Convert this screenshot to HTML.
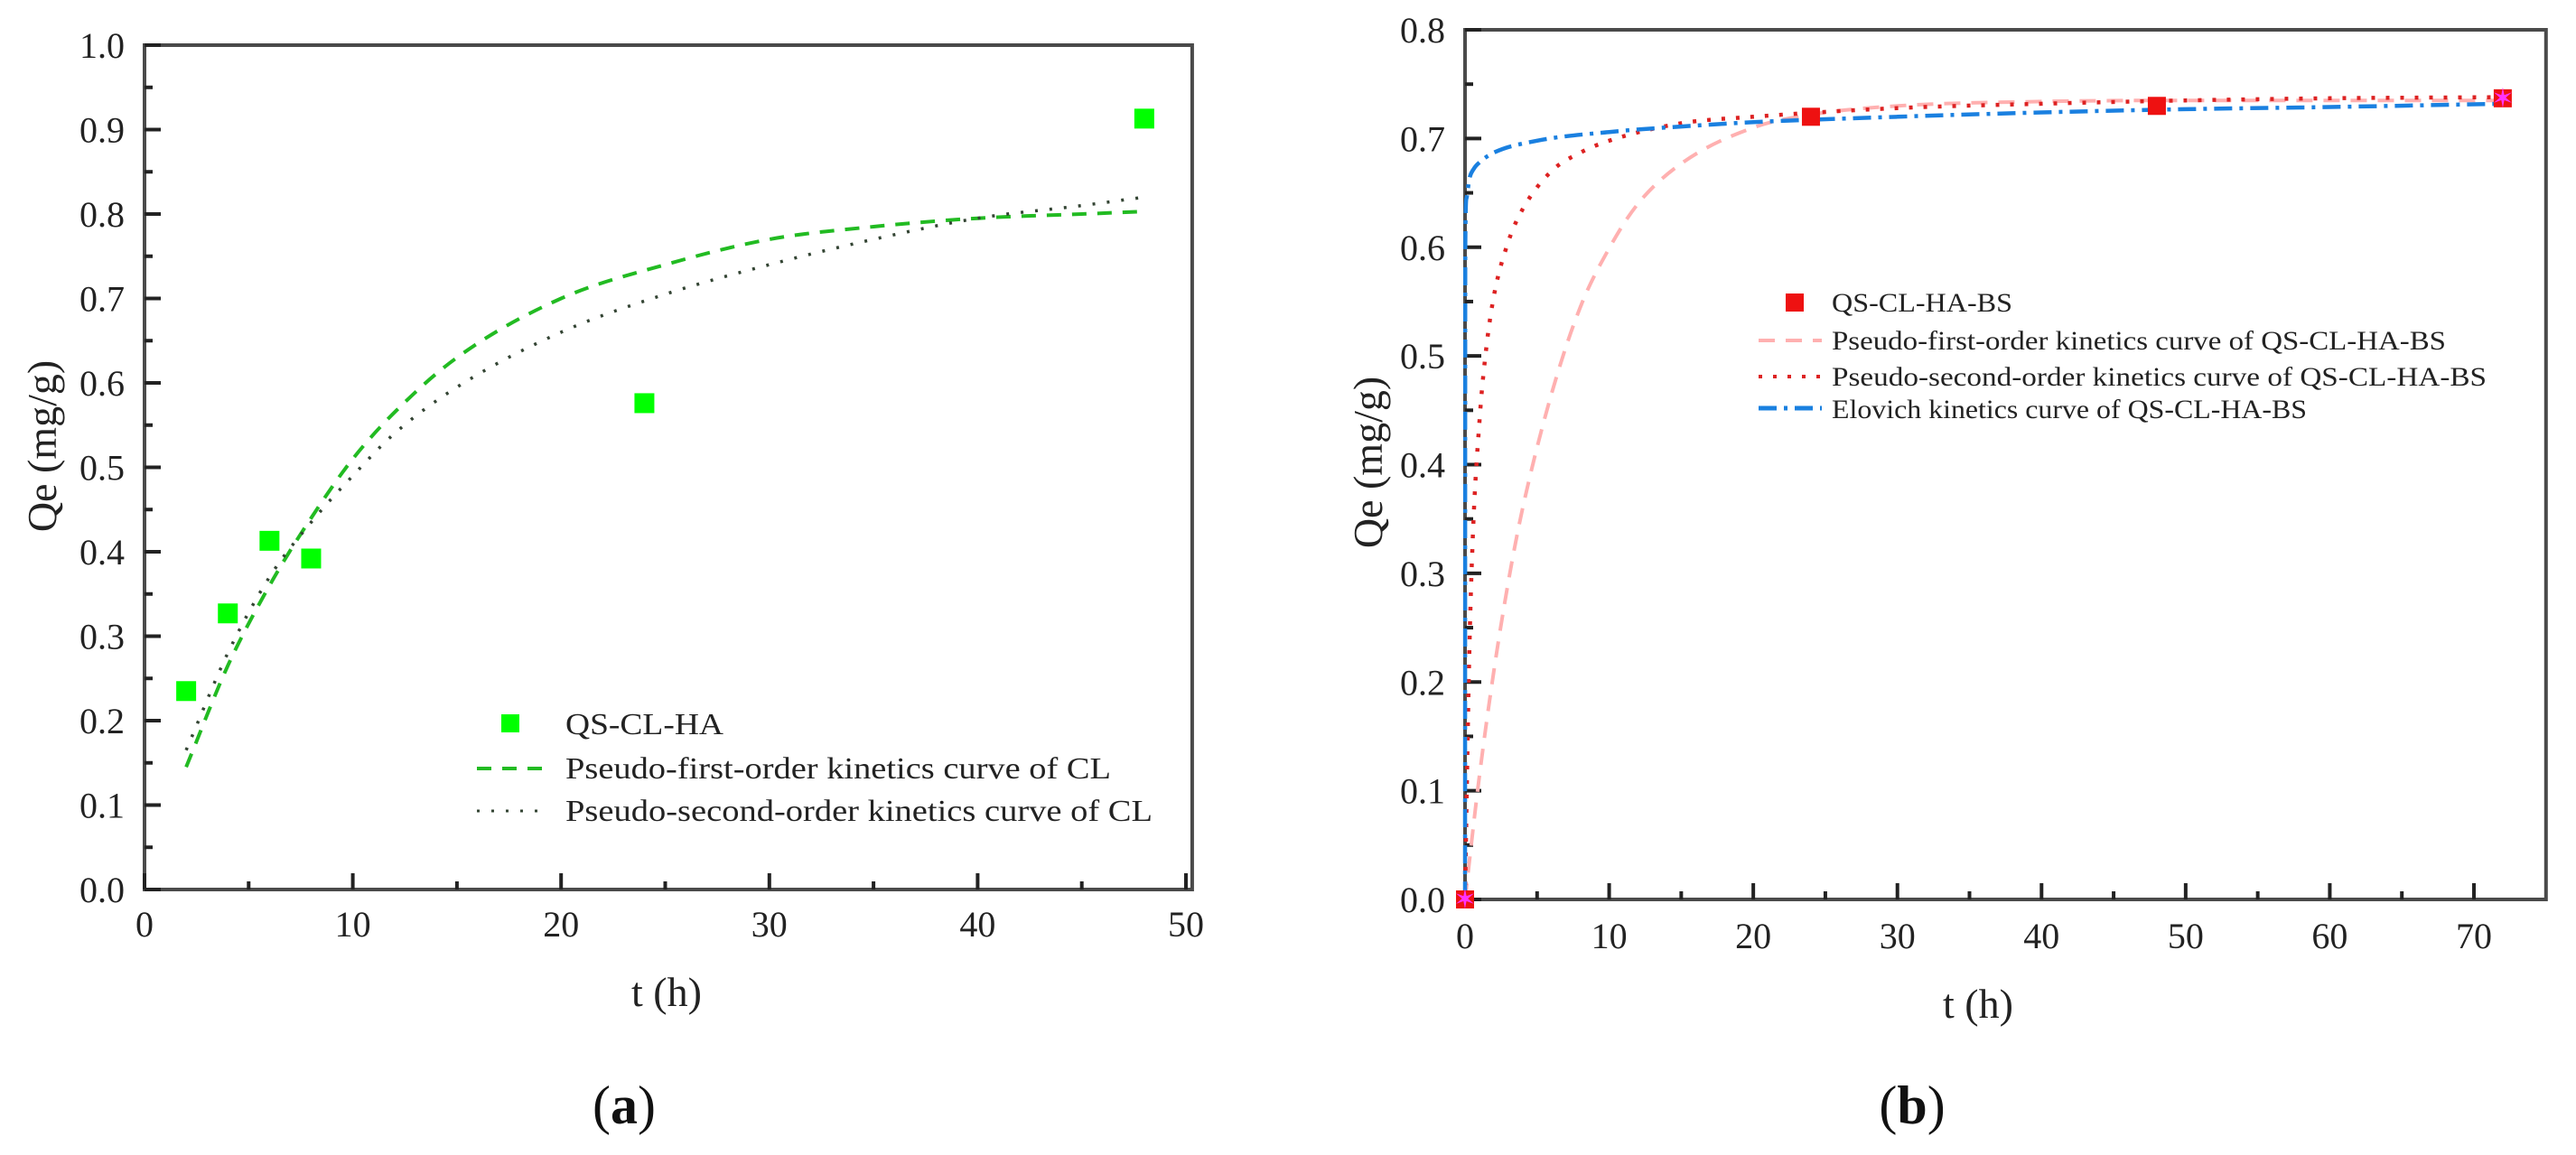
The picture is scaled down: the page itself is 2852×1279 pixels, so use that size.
<!DOCTYPE html>
<html><head><meta charset="utf-8"><style>
html,body{margin:0;padding:0;background:#fff;}
svg{display:block;font-family:"Liberation Serif","DejaVu Serif",serif;}
</style></head><body>
<svg id="fig" width="2852" height="1279" viewBox="0 0 2852 1279" xmlns="http://www.w3.org/2000/svg">
<rect width="2852" height="1279" fill="#fff"/>
<g id="pa"></g>
<g id="pb"></g>
</svg>
<script>
// ---- Panel (a) data ----
const aPtsT = [2, 4, 6, 8, 24, 48];
const aPtsQ = [0.235, 0.327, 0.413, 0.392, 0.576, 0.913];
const aCurveT = [2, 4, 6, 8, 10, 12, 15, 20, 25, 30, 35, 40, 45, 48];
const aPfo = [0.145, 0.265, 0.36, 0.44, 0.51, 0.565, 0.63, 0.70, 0.74, 0.77, 0.785, 0.795, 0.80, 0.803];
const aPso = [0.165, 0.28, 0.37, 0.435, 0.49, 0.54, 0.595, 0.66, 0.705, 0.74, 0.77, 0.795, 0.81, 0.82];
const aXTicks = [0, 10, 20, 30, 40, 50];
const aYTicks = [0.0, 0.1, 0.2, 0.3, 0.4, 0.5, 0.6, 0.7, 0.8, 0.9, 1.0];
// ---- Panel (b) data ----
const bPtsT = [0, 24, 48, 72];
const bPtsQ = [0, 0.72, 0.73, 0.737];
const bPfoT = [0, 1, 2, 3, 4, 6, 8, 10, 12, 15, 20, 24, 30, 40, 50, 60, 72];
const bPfo = [0, 0.114, 0.21, 0.292, 0.36, 0.465, 0.545, 0.599, 0.64, 0.677, 0.71, 0.722, 0.73, 0.734, 0.735, 0.735, 0.735];
const bPsoT = [0, 0.25, 0.5, 1, 1.5, 2, 3, 4, 6, 8, 10, 15, 20, 30, 40, 50, 60, 72];
const bPso = [0, 0.198, 0.32, 0.44, 0.51, 0.555, 0.605, 0.635, 0.67, 0.687, 0.698, 0.714, 0.72, 0.728, 0.732, 0.735, 0.737, 0.738];
const bEloT = [0, 0.02, 0.1, 0.3, 0.6, 1, 2, 5, 10, 15, 20, 30, 40, 50, 60, 72];
const bElo = [0, 0.6, 0.645, 0.663, 0.672, 0.678, 0.687, 0.698, 0.706, 0.711, 0.715, 0.72, 0.724, 0.727, 0.729, 0.732];
const bXTicks = [0, 10, 20, 30, 40, 50, 60, 70];
const bYTicks = [0.0, 0.1, 0.2, 0.3, 0.4, 0.5, 0.6, 0.7, 0.8];

const NS = 'http://www.w3.org/2000/svg';
function mk(parent, tag, attrs, text){
  const e = document.createElementNS(NS, tag);
  for (const k in attrs) e.setAttribute(k, attrs[k]);
  if (text !== undefined) e.textContent = text;
  parent.appendChild(e);
  return e;
}
function scale(d0, d1, r0, r1){ return v => r0 + (v - d0) * (r1 - r0) / (d1 - d0); }

function axes(g, X, Y, xr, yr, xTicks, yTicks, xMinor, yMinor, xLabY){
  const L = X(xr[0]), R = X(xr[1]), T = Y(yr[1]), B = Y(yr[0]);
  const fr = mk(g, 'rect', {x:L, y:T, width:R-L, height:B-T, fill:'none', stroke:'#4a4a4a', 'stroke-width':4});
  
  
  for (let v = xr[0]; v <= xTicks[xTicks.length-1] + 1e-9; v += xMinor){
    const major = xTicks.some(t => Math.abs(t - v) < 1e-9);
    const t = mk(g, 'line', {x1:X(v), x2:X(v), y1:B, y2:B-(major?18:9), stroke:'#222', 'stroke-width':4});
    
    
  }
  xTicks.forEach(v => {
    const t = mk(g, 'text', {x:X(v), y:xLabY, 'font-size':40, 'text-anchor':'middle', fill:'#222'}, String(v));
    
    
  });
  const n = Math.round((yr[1]-yr[0])/yMinor);
  for (let i = 0; i <= n; i++){
    const v = yr[0] + i*yMinor;
    const major = i % 2 === 0;
    const t = mk(g, 'line', {x1:L, x2:L+(major?18:9), y1:Y(v), y2:Y(v), stroke:'#222', 'stroke-width':4});
    
    
  }
  yTicks.forEach(v => {
    const t = mk(g, 'text', {x:L-22, y:Y(v)+14, 'font-size':40, 'text-anchor':'end', fill:'#222'}, v.toFixed(1));
    
    
  });
}
// monotone cubic (Fritsch-Carlson) smooth path
function pathD(ts, qs, X, Y){
  const xs = ts.map(X), ys = qs.map(Y), n = xs.length;
  const d = [], m = new Array(n);
  for (let i = 0; i < n-1; i++) d.push((ys[i+1]-ys[i])/(xs[i+1]-xs[i]));
  m[0] = d[0]; m[n-1] = d[n-2];
  for (let i = 1; i < n-1; i++) m[i] = (d[i-1]*d[i] <= 0) ? 0 : (d[i-1]+d[i])/2;
  for (let i = 0; i < n-1; i++){
    if (d[i] === 0){ m[i] = 0; m[i+1] = 0; continue; }
    const a = m[i]/d[i], b = m[i+1]/d[i], s = a*a + b*b;
    if (s > 9){ const tau = 3/Math.sqrt(s); m[i] = tau*a*d[i]; m[i+1] = tau*b*d[i]; }
  }
  let p = 'M' + xs[0].toFixed(1) + ',' + ys[0].toFixed(1);
  for (let i = 0; i < n-1; i++){
    const h = (xs[i+1]-xs[i])/3;
    p += ' C' + (xs[i]+h).toFixed(1) + ',' + (ys[i]+m[i]*h).toFixed(1) + ' ' +
         (xs[i+1]-h).toFixed(1) + ',' + (ys[i+1]-m[i+1]*h).toFixed(1) + ' ' +
         xs[i+1].toFixed(1) + ',' + ys[i+1].toFixed(1);
  }
  return p;
}

// ---------- Panel A ----------
(function(){
  const g = document.getElementById('pa');
  const X = scale(0, 50, 160, 1313), Y = scale(0, 1, 985, 50);
  axes(g, X, Y, [0, 50.3], [0, 1], aXTicks, aYTicks, 5, 0.05, 1037);
  const p1 = mk(g, 'path', {d:pathD(aCurveT, aPfo, X, Y), fill:'none', stroke:'#22bb22', 'stroke-width':4, 'stroke-dasharray':'16 12'});
  
  
  const p2 = mk(g, 'path', {d:pathD(aCurveT, aPso, X, Y), fill:'none', stroke:'#334433', 'stroke-width':3.5, 'stroke-dasharray':'3 13'});
  
  
  aPtsT.forEach((t,i) => {
    const r = mk(g, 'rect', {x:X(t)-11, y:Y(aPtsQ[i])-11, width:22, height:22, fill:'#00ff00'});
    
    
  });
  const lg = mk(g, 'g', {});
  
  
  mk(lg, 'rect', {x:555, y:791, width:20, height:20, fill:'#00ff00'});
  mk(lg, 'line', {x1:528, x2:606, y1:851, y2:851, stroke:'#22bb22', 'stroke-width':4, 'stroke-dasharray':'16 12'});
  mk(lg, 'line', {x1:528, x2:600, y1:898, y2:898, stroke:'#334433', 'stroke-width':3, 'stroke-dasharray':'3 13'});
  mk(lg, 'text', {x:626, y:813, 'font-size':34, fill:'#222', textLength:175, lengthAdjust:'spacingAndGlyphs'}, 'QS-CL-HA');
  mk(lg, 'text', {x:626, y:862, 'font-size':34, fill:'#222', textLength:604, lengthAdjust:'spacingAndGlyphs'}, 'Pseudo-first-order kinetics curve of CL');
  mk(lg, 'text', {x:626, y:909, 'font-size':34, fill:'#222', textLength:650, lengthAdjust:'spacingAndGlyphs'}, 'Pseudo-second-order kinetics curve of CL');
  const yt = mk(g, 'text', {x:0, y:0, 'font-size':46, 'text-anchor':'middle', fill:'#222', transform:'translate(62,494) rotate(-90)'}, 'Qe (mg/g)');
  
  
  const xt = mk(g, 'text', {x:738, y:1114, 'font-size':46, 'text-anchor':'middle', fill:'#222'}, 't (h)');
  
  
  const cap = mk(g, 'text', {x:691, y:1244, 'font-size':60, 'text-anchor':'middle', fill:'#111'});
  
  
  cap.innerHTML = '(<tspan font-weight="bold">a</tspan>)';
})();

// ---------- Panel B ----------
(function(){
  const g = document.getElementById('pb');
  const X = scale(0, 70, 1622, 2739), Y = scale(0, 0.8, 996, 33);
  axes(g, X, Y, [0, 75], [0, 0.8], bXTicks, bYTicks, 5, 0.05, 1050);
  const p1 = mk(g, 'path', {d:pathD(bPfoT, bPfo, X, Y), fill:'none', stroke:'#ffb0b0', 'stroke-width':4, 'stroke-dasharray':'18 12'});
  
  
  const p2 = mk(g, 'path', {d:pathD(bPsoT, bPso, X, Y), fill:'none', stroke:'#dd2222', 'stroke-width':4.5, 'stroke-dasharray':'4 12'});
  
  
  const p3 = mk(g, 'path', {d:pathD(bEloT, bElo, X, Y), fill:'none', stroke:'#1a80e0', 'stroke-width':4.5, 'stroke-dasharray':'20 8 4 8'});
  
  
  bPtsT.forEach((t,i) => {
    const r = mk(g, 'rect', {x:X(t)-10, y:Y(bPtsQ[i])-10, width:20, height:20, fill:'#ee1111'});
    
    
  });
  [0, 72].forEach(t => {
    const s = mk(g, 'text', {x:X(t), y:Y(t===0?0:0.737)+10, 'font-size':30, 'text-anchor':'middle', fill:'#ff33ff'}, '✶');
    
    
  });
  const lg = mk(g, 'g', {});
  
  
  mk(lg, 'rect', {x:1977, y:325, width:20, height:20, fill:'#ee1111'});
  mk(lg, 'line', {x1:1947, x2:2017, y1:377, y2:377, stroke:'#ffb0b0', 'stroke-width':4, 'stroke-dasharray':'18 12'});
  mk(lg, 'line', {x1:1947, x2:2017, y1:417, y2:417, stroke:'#dd2222', 'stroke-width':4, 'stroke-dasharray':'4 12'});
  mk(lg, 'line', {x1:1947, x2:2017, y1:452, y2:452, stroke:'#1a80e0', 'stroke-width':5, 'stroke-dasharray':'20 8 4 8'});
  mk(lg, 'text', {x:2028, y:345, 'font-size':30, fill:'#222', textLength:200, lengthAdjust:'spacingAndGlyphs'}, 'QS-CL-HA-BS');
  mk(lg, 'text', {x:2028, y:387, 'font-size':30, fill:'#222', textLength:680, lengthAdjust:'spacingAndGlyphs'}, 'Pseudo-first-order kinetics curve of  QS-CL-HA-BS');
  mk(lg, 'text', {x:2028, y:427, 'font-size':30, fill:'#222', textLength:725, lengthAdjust:'spacingAndGlyphs'}, 'Pseudo-second-order kinetics curve of  QS-CL-HA-BS');
  mk(lg, 'text', {x:2028, y:463, 'font-size':30, fill:'#222', textLength:526, lengthAdjust:'spacingAndGlyphs'}, 'Elovich kinetics curve of QS-CL-HA-BS');
  const yt = mk(g, 'text', {x:0, y:0, 'font-size':46, 'text-anchor':'middle', fill:'#222', transform:'translate(1530,512) rotate(-90)'}, 'Qe (mg/g)');
  
  
  const xt = mk(g, 'text', {x:2190, y:1127, 'font-size':46, 'text-anchor':'middle', fill:'#222'}, 't (h)');
  
  
  const cap = mk(g, 'text', {x:2117, y:1244, 'font-size':60, 'text-anchor':'middle', fill:'#111'});
  
  
  cap.innerHTML = '(<tspan font-weight="bold">b</tspan>)';
})();
</script>
</body></html>
